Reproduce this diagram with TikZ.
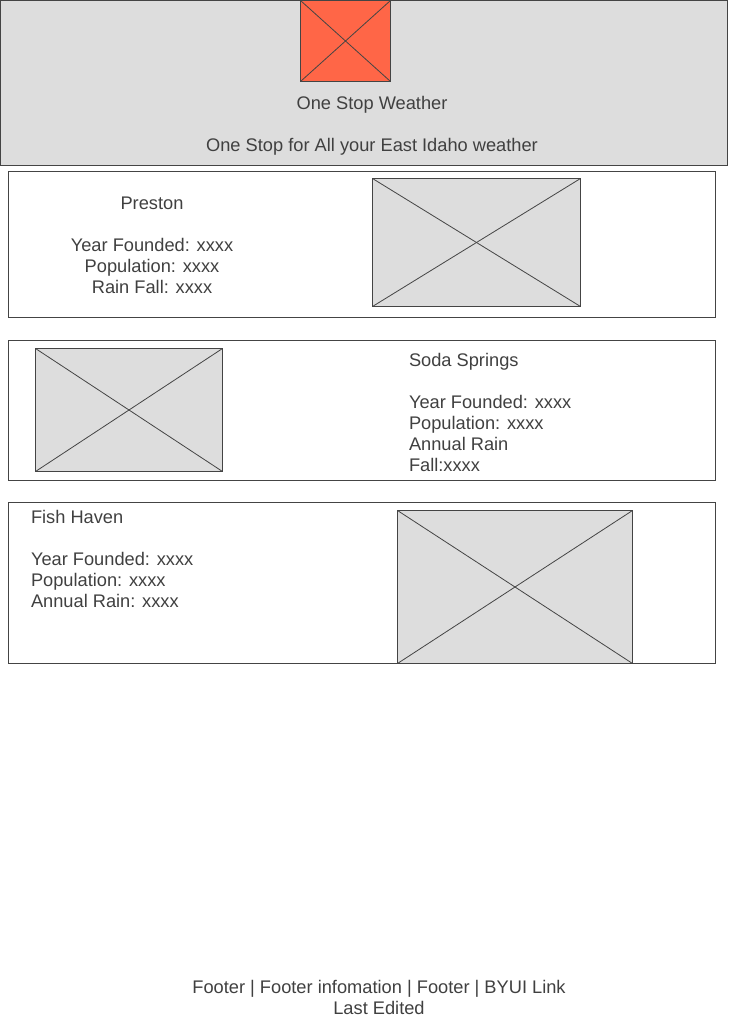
\documentclass[tikz,border=0pt]{standalone}
\usepackage{fontspec}
\setmainfont{Liberation Sans}
\definecolor{panelgray}{HTML}{DDDDDD}
\definecolor{edgegray}{HTML}{444444}
\definecolor{inkgray}{HTML}{404040}
\definecolor{logored}{HTML}{FF6647}
\begin{document}
\begin{tikzpicture}[x=1pt,y=-1pt,
  every node/.style={inner sep=0pt, outer sep=0pt},
  frame/.style={draw=edgegray, line width=1pt, rectangle, anchor=north west},
  band/.style={frame, fill=panelgray},
  picbox/.style={frame, fill=panelgray},
  cross/.style={draw=edgegray, line width=0.8pt},
  label/.style={text=inkgray, font=\fontsize{18.25}{21}\selectfont},
]
\useasboundingbox (0,0) rectangle (728,1024);

% header banner with logo and titles
\node[band, minimum width=727pt, minimum height=165pt] (header) at (0.5,0.5) {};
\node[frame, fill=logored, minimum width=90pt, minimum height=81pt] (logo) at (300.5,0.5) {};
\draw[cross] (logo.north west) -- (logo.south east);
\draw[cross] (logo.north east) -- (logo.south west);
\node[label, anchor=base] (title) at (372,110) {One Stop Weather};
\node[label, anchor=base] (tagline) at (372,152) {One Stop for All your East Idaho weather};

% Preston card
\node[frame, minimum width=707pt, minimum height=146pt] (preston) at (8.5,171.5) {};
\node[picbox, minimum width=208pt, minimum height=128pt] (prestonpic) at (372.5,178.5) {};
\draw[cross] (prestonpic.north west) -- (prestonpic.south east);
\draw[cross] (prestonpic.north east) -- (prestonpic.south west);
\node[label, anchor=north, align=center] (prestontxt) at (152,197)
  {Preston\\[21pt]Year Founded: xxxx\\Population: xxxx\\Rain Fall: xxxx};

% Soda Springs card
\node[frame, minimum width=707pt, minimum height=140pt] (soda) at (8.5,340.5) {};
\node[picbox, minimum width=187pt, minimum height=123pt] (sodapic) at (35.5,348.5) {};
\draw[cross] (sodapic.north west) -- (sodapic.south east);
\draw[cross] (sodapic.north east) -- (sodapic.south west);
\node[label, anchor=north west, align=left] (sodatxt) at (409,353)
  {Soda Springs\\[21pt]Year Founded: xxxx\\Population: xxxx\\Annual Rain\\Fall:xxxx};

% Fish Haven card
\node[frame, minimum width=707pt, minimum height=161pt] (fish) at (8.5,502.5) {};
\node[picbox, minimum width=235pt, minimum height=153pt] (fishpic) at (397.5,510.5) {};
\draw[cross] (fishpic.north west) -- (fishpic.south east);
\draw[cross] (fishpic.north east) -- (fishpic.south west);
\node[label, anchor=north west, align=left] (fishtxt) at (31,510)
  {Fish Haven\\[21pt]Year Founded: xxxx\\Population: xxxx\\Annual Rain: xxxx};

% footer
\node[label, anchor=north, align=center] (footer) at (379,980)
  {Footer | Footer infomation | Footer | BYUI Link\\Last Edited};
\end{tikzpicture}
\end{document}
